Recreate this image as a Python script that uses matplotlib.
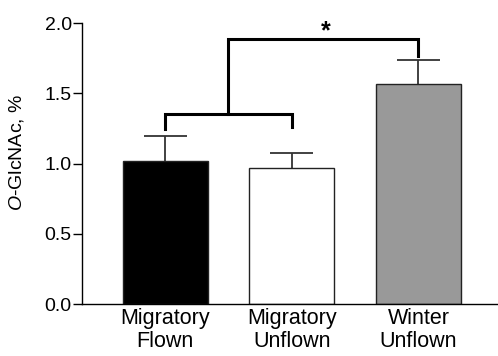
import matplotlib
matplotlib.use("Agg")
import matplotlib.pyplot as plt
import numpy as np

plt.rcParams['font.family'] = ['Liberation Sans', 'DejaVu Sans']
plt.rcParams['mathtext.fontset'] = 'custom'
plt.rcParams['mathtext.rm'] = 'Liberation Sans'
plt.rcParams['mathtext.it'] = 'Liberation Sans:italic'

groups = ["Migratory\nFlown", "Migratory\nUnflown", "Winter\nUnflown"]
means = np.array([1.02, 0.97, 1.565])
sems = np.array([0.175, 0.105, 0.17])
colors = ["black", "white", "#999999"]

fig = plt.figure(figsize=(4.98, 3.56), dpi=100)
ax = fig.add_axes([0.165, 0.146, 0.833, 0.789])

x = np.arange(len(groups))
ax.bar(x, means, width=0.67, color=colors, edgecolor="#222222", linewidth=1.0, zorder=2)
# upper error bars only
ax.vlines(x, means, means + sems, color="#333333", lw=1.3, zorder=1)
ax.hlines(means + sems, x - 0.17, x + 0.17, color="#333333", lw=1.3, zorder=1)

# significance brackets
lw = 2.2
ax.plot([0, 0, 1, 1], [1.245, 1.352, 1.352, 1.26], color="black", lw=lw,
        solid_joinstyle="miter", clip_on=False)
ax.plot([0.5, 0.5, 2, 2], [1.352, 1.886, 1.886, 1.765], color="black", lw=lw,
        solid_joinstyle="miter", clip_on=False)
ax.text(1.27, 1.94, "*", ha="center", va="center", fontsize=18, fontweight="bold",
        clip_on=False)

ax.set_xlim(-0.655, 2.62)
ax.set_ylim(0, 2.0)
ax.set_yticks([0, 0.5, 1.0, 1.5, 2.0])
ax.set_yticklabels(["0.0", "0.5", "1.0", "1.5", "2.0"])
ax.set_xticks(x)
ax.set_xticklabels(groups, linespacing=1.12)
ax.tick_params(axis="x", length=0, labelsize=15.5, pad=3)
ax.tick_params(axis="y", length=6.5, width=1, labelsize=14, pad=1)
ax.spines["top"].set_visible(False)
ax.spines["right"].set_visible(False)
ax.spines["left"].set_linewidth(1)
ax.spines["bottom"].set_linewidth(1)
ax.set_ylabel(r"$\it{O}$-GlcNAc, %", fontsize=14)
ax.yaxis.set_label_coords(-0.135, 0.54)

fig.savefig("out.png", dpi=100)
